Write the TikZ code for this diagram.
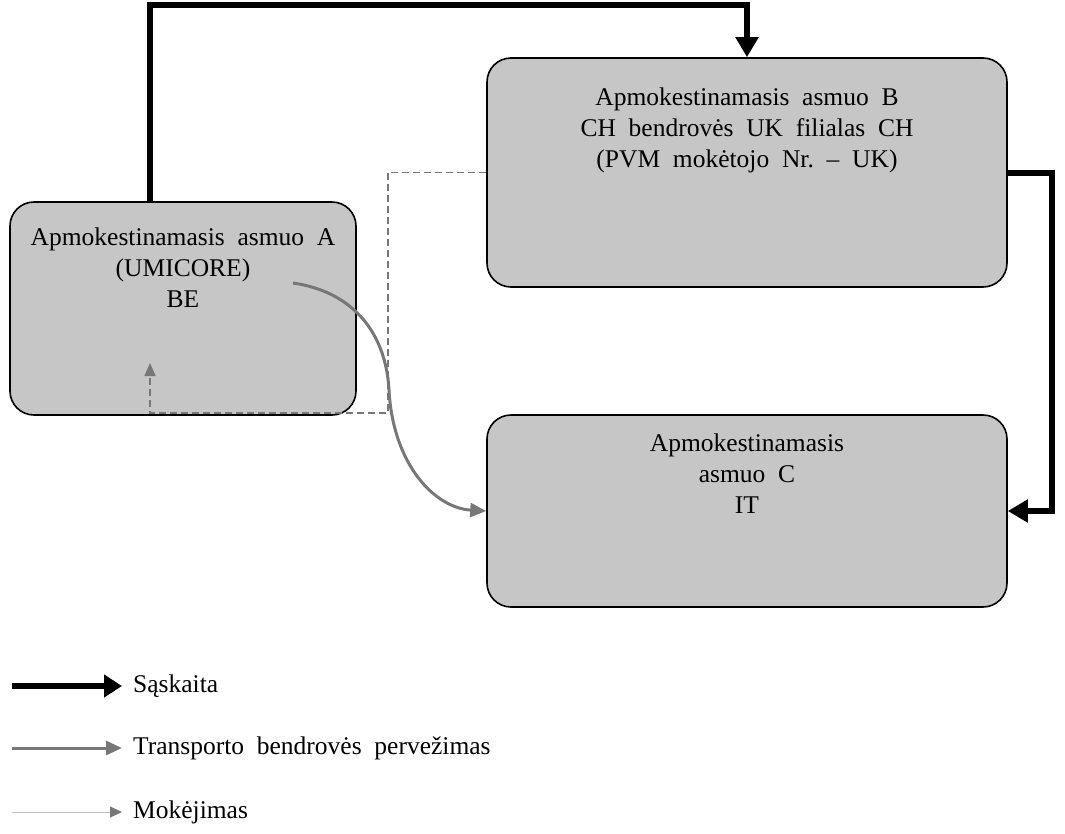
\documentclass[tikz,border=0pt]{standalone}
\usepackage{fontspec}
\setmainfont{Liberation Serif}
\usetikzlibrary{arrows.meta,calc}
\definecolor{boxfill}{HTML}{C6C6C6}
\definecolor{tgray}{HTML}{777777}
\begin{document}
\begin{tikzpicture}[x=1pt,y=-1pt,
  box/.style={draw=black,line width=1.6pt,fill=boxfill,rounded corners=24pt,inner sep=0pt},
  lbl/.style={align=center,font=\fontsize{25.5}{31}\selectfont,inner sep=0pt},
  legtext/.style={anchor=west,font=\fontsize{25.5}{31}\selectfont,inner sep=0pt},
  invoice/.style={line width=6pt,-{Triangle[width=22pt,length=20pt]}},
  transport/.style={tgray,line width=3pt,-{Triangle[width=14pt,length=16pt]}},
  payment/.style={tgray,line width=1.6pt,dash pattern=on 7pt off 4pt,-{Triangle[width=11pt,length=13pt]}},
]
\useasboundingbox (0,0) rectangle (1065,833);
% boxes
\node[box,minimum width=346pt,minimum height=213pt] (A) at (183,308.5) {};
\node[box,minimum width=520pt,minimum height=229pt] (B) at (747,172.5) {};
\node[box,minimum width=520pt,minimum height=192pt] (C) at (747,511) {};
% labels
\node[lbl,anchor=north] (At) at ([yshift=-26pt]A.north) {Apmokestinamasis\ \ asmuo\ \ A\\(UMICORE)\\BE};
\node[lbl,anchor=north] (Bt) at ([yshift=-30pt]B.north) {Apmokestinamasis\ \ asmuo\ \ B\\CH\ \ bendrovės\ \ UK\ \ filialas\ \ CH\\(PVM\ \ mokėtojo\ \ Nr.\ \ –\ \ UK)};
\node[lbl,anchor=north] (Ct) at ([yshift=-19pt]C.north) {Apmokestinamasis\\asmuo\ \ C\\IT};
% coordinates
\coordinate (Aout) at (150,202);
\coordinate (Tstart) at (293,283);
\coordinate (Pend) at (150,363);
% payment (dashed)
\draw[payment] (B.west) -- (388,172.5) -- (388,413) -- (150,413) -- (Pend);
% invoices
\draw[invoice] (Aout) -- (150,5) -| (B.north);
\draw[invoice] (B.east) -- (1052,172.5) |- (C.east);
% transport
\draw[transport] (Tstart) .. controls (355,292) and (386,335) .. (389,390)
  .. controls (393,465) and (435,508) .. (C.west);
% legend
\coordinate (L1s) at (12,686); \coordinate (L1e) at (122,686);
\coordinate (L2s) at (12,748); \coordinate (L2e) at (122,748);
\coordinate (L3s) at (12,812); \coordinate (L3e) at (122,812);
\draw[invoice,line width=5.5pt,-{Triangle[width=22pt,length=18pt]}] (L1s) -- (L1e);
\draw[transport,line width=3pt] (L2s) -- (L2e);
\draw[black!25,line width=0.8pt,-{Triangle[width=11pt,length=12pt,fill=tgray,color=tgray]}] (L3s) -- (L3e);
\node[legtext] (T1) at (133,686) {Sąskaita};
\node[legtext] (T2) at (133,748) {Transporto\ \ bendrovės\ \ pervežimas};
\node[legtext] (T3) at (133,812) {Mokėjimas};
\end{tikzpicture}
\end{document}
